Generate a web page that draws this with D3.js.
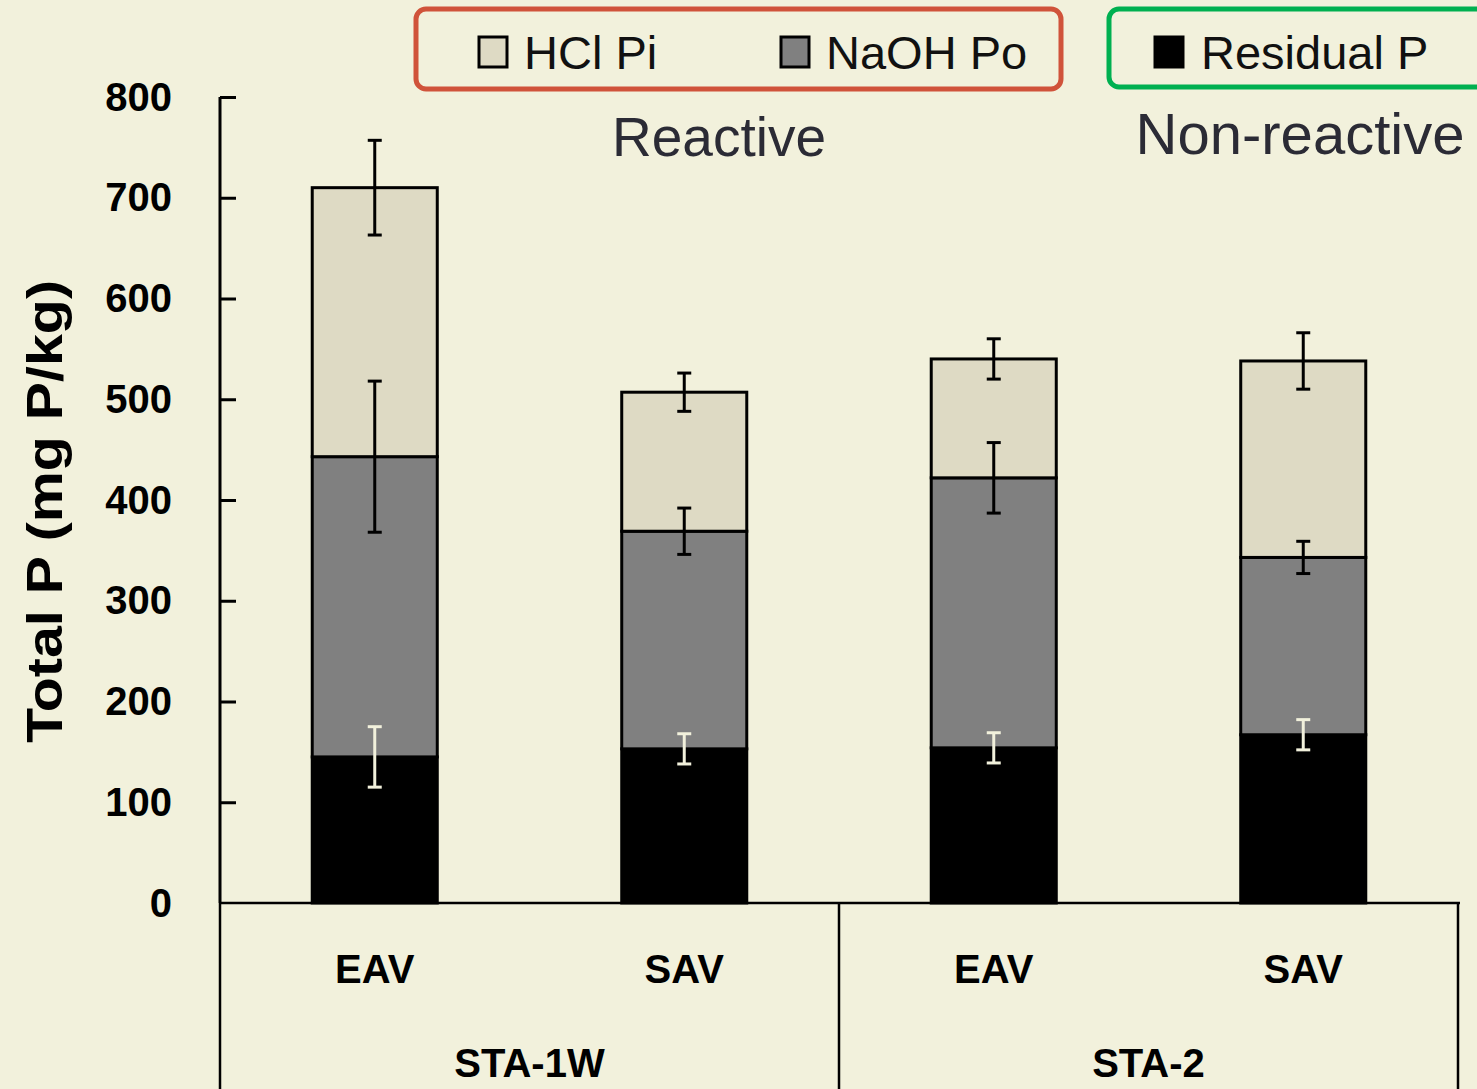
<!DOCTYPE html>
<meta charset="utf-8">
<style>
body { margin: 0; background: #f2f1dc; }
svg { display: block; }
text { font-family: "Liberation Sans", Arial, sans-serif; }
</style>
<body>
<svg width="1477" height="1089"></svg>
<script src="https://d3js.org/d3.v7.min.js"></script>
<script>

// data (mg P/kg)
var sites    = ["STA-1W", "STA-1W", "STA-2", "STA-2"];
var veg      = ["EAV", "SAV", "EAV", "SAV"];
var residual = [145, 153, 154, 167];
var naoh     = [298, 216, 268, 176];
var hcl      = [267, 138, 118, 195];
var residualErr = [30, 15, 15, 15];
var naohErr     = [75, 23, 35, 16];
var hclErr      = [47, 19, 20, 28];
var yTicks = [0, 100, 200, 300, 400, 500, 600, 700, 800];

var svg = d3.select("svg");
var plotLeft = 220, plotRight = 1458, plotTop = 97, plotBottom = 903;

var x = d3.scaleBand()
    .domain(d3.range(veg.length))
    .range([plotLeft, plotRight])
    .paddingInner(0.596)
    .paddingOuter(0.298);

var y = d3.scaleLinear().domain([0, 800]).range([plotBottom, plotTop]);

// stacked rows
var rows = veg.map(function(v, i) {
  return { i: i, residual: residual[i], naoh: naoh[i], hcl: hcl[i] };
});
var keys = ["residual", "naoh", "hcl"];
var fills = { residual: "#000000", naoh: "#808080", hcl: "#dedac4" };
var errs = { residual: residualErr, naoh: naohErr, hcl: hclErr };
var stack = d3.stack().keys(keys)(rows);

// bars
stack.forEach(function(layer) {
  svg.append("g").selectAll("rect")
    .data(layer)
    .enter().append("rect")
      .attr("x", function(d) { return x(d.data.i); })
      .attr("y", function(d) { return y(d[1]); })
      .attr("width", x.bandwidth())
      .attr("height", function(d) { return y(d[0]) - y(d[1]); })
      .attr("fill", fills[layer.key])
      .attr("stroke", "#000")
      .attr("stroke-width", 3);
});

// error bars (residual ones are drawn light on the black bar)
stack.forEach(function(layer) {
  var col = layer.key == "residual" ? "#f2f1dc" : "#000";
  var g = svg.append("g").attr("stroke", col).attr("stroke-width", 3);
  layer.forEach(function(d) {
    var cx = x(d.data.i) + x.bandwidth() / 2;
    var e = errs[layer.key][d.data.i];
    var y1 = y(d[1] + e), y2 = y(d[1] - e);
    g.append("line").attr("x1", cx).attr("x2", cx).attr("y1", y1).attr("y2", y2);
    g.append("line").attr("x1", cx - 7).attr("x2", cx + 7).attr("y1", y1).attr("y2", y1);
    g.append("line").attr("x1", cx - 7).attr("x2", cx + 7).attr("y1", y2).attr("y2", y2);
  });
});

// y axis
var yAxis = d3.axisLeft(y).tickValues(yTicks).tickSize(-16).tickPadding(48);
var ya = svg.append("g").attr("transform", "translate(" + plotLeft + ",0)").call(yAxis);
ya.select(".domain").attr("stroke-width", 3).attr("d", "M0," + plotTop + "V" + plotBottom);
ya.selectAll(".tick line").attr("stroke-width", 3);
ya.selectAll(".tick text")
    .attr("font-family", "'Liberation Sans', Arial, sans-serif")
    .attr("font-size", 40).attr("font-weight", "bold").attr("fill", "#000")
    .attr("dy", "0.33em");
ya.selectAll(".tick").filter(function(d) { return d == 0; }).select("line").remove();

svg.append("text")
    .attr("transform", "translate(62," + ((280 + 743) / 2) + ") rotate(-90)")
    .attr("text-anchor", "middle")
    .attr("font-size", 50).attr("font-weight", "bold")
    .attr("textLength", 463).attr("lengthAdjust", "spacingAndGlyphs")
    .text("Total P (mg P/kg)");

// category axis box
var cat = svg.append("g").attr("stroke", "#000").attr("stroke-width", 2.5);
cat.append("line").attr("x1", plotLeft).attr("x2", plotRight + 2).attr("y1", plotBottom).attr("y2", plotBottom);
var mid = (x(1) + x.bandwidth() + x(2)) / 2;
[plotLeft, mid, plotRight].forEach(function(px) {
  cat.append("line").attr("x1", px).attr("x2", px).attr("y1", plotBottom).attr("y2", 1089);
});

svg.append("g").selectAll("text")
  .data(veg)
  .enter().append("text")
    .attr("x", function(d, i) { return x(i) + x.bandwidth() / 2; })
    .attr("y", 983)
    .attr("text-anchor", "middle")
    .attr("font-size", 40).attr("font-weight", "bold")
    .text(function(d) { return d; });

var groups = ["STA-1W", "STA-2"];
svg.append("g").selectAll("text")
  .data(groups)
  .enter().append("text")
    .attr("x", function(d, i) { return i == 0 ? (plotLeft + mid) / 2 : (mid + plotRight) / 2; })
    .attr("y", 1077)
    .attr("text-anchor", "middle")
    .attr("font-size", 40).attr("font-weight", "bold")
    .text(function(d) { return d; });

// legends
svg.append("rect").attr("x", 416).attr("y", 9).attr("width", 645).attr("height", 80)
    .attr("rx", 10).attr("fill", "none").attr("stroke", "#d0533a").attr("stroke-width", 5);
svg.append("rect").attr("x", 1109).attr("y", 9).attr("width", 380).attr("height", 78)
    .attr("rx", 10).attr("fill", "none").attr("stroke", "#00b050").attr("stroke-width", 5);

var legend = [
  { name: "HCl Pi", key: "hcl", sx: 479, tx: 524 },
  { name: "NaOH Po", key: "naoh", sx: 781, tx: 826 },
  { name: "Residual P", key: "residual", sx: 1155, tx: 1201 }
];
legend.forEach(function(l) {
  svg.append("rect").attr("x", l.sx).attr("y", 37).attr("width", 28).attr("height", 30)
      .attr("fill", fills[l.key]).attr("stroke", "#000").attr("stroke-width", 3);
  svg.append("text").attr("x", l.tx).attr("y", 69)
      .attr("font-size", 47).attr("fill", "#111").text(l.name);
});

svg.append("text").attr("x", 719).attr("y", 156).attr("text-anchor", "middle")
    .attr("font-size", 55).attr("fill", "#2b2b35").text("Reactive");
svg.append("text").attr("x", 1300).attr("y", 154).attr("text-anchor", "middle")
    .attr("font-size", 58).attr("fill", "#2b2b35").text("Non-reactive");

</script>
</body>
